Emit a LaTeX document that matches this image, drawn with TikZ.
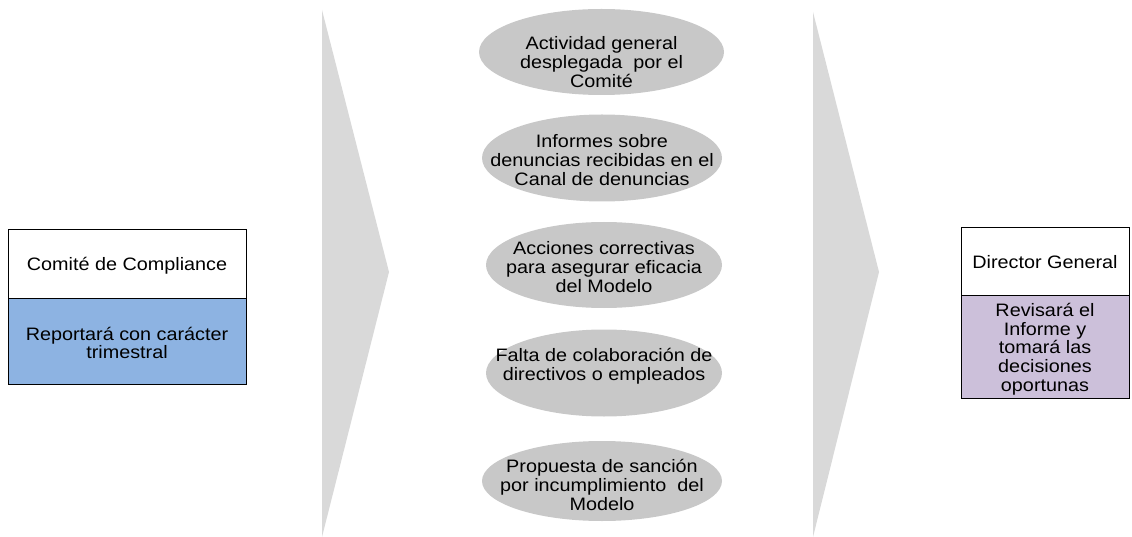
\documentclass[tikz,border=0pt]{standalone}
\usepackage{fontspec}
\setmainfont{Liberation Sans}[FakeStretch=1.1]
\usetikzlibrary{shapes.geometric}
\definecolor{chev}{HTML}{D9D9D9}
\definecolor{ellfill}{HTML}{C8C8C8}
\definecolor{bluefill}{HTML}{8DB3E2}
\definecolor{lavfill}{HTML}{CCC0DA}
\tikzset{
  txt/.style={font=\fontsize{18}{18.7}\selectfont, align=center, text=black, inner sep=0pt},
  cell/.style={txt, draw=black, line width=1pt},
  oval/.style={ellipse, fill=ellfill, draw=none, inner sep=0pt},
}
\begin{document}
\begin{tikzpicture}[x=1pt,y=-1pt]
\useasboundingbox (0,0) rectangle (1132,537);
% chevrons
\fill[chev] (322,10) -- (389,272) -- (322,537) -- cycle;
\fill[chev] (813,12) -- (879,272) -- (813,537) -- cycle;
% left box
\node[cell, minimum width=238pt, minimum height=68pt] (lt) at (127,264) {};
\node[txt] (ltt) at (127,266) {Comité de Compliance};
\node[cell, fill=bluefill, minimum width=238pt, minimum height=86pt] (lb) at (127,341) {};
\node[txt] (lbt) at (127,343) {Reportará con carácter\\trimestral};
% right box
\node[cell, minimum width=168pt, minimum height=67pt] (rt) at (1045,261.5) {};
\node[txt] (rtt) at (1045,262) {Director General};
\node[cell, fill=lavfill, minimum width=168pt, minimum height=103pt] (rb) at (1045,346.5) {};
\node[txt] (rbt) at (1045,349) {Revisará el\\Informe y\\tomará las\\decisiones\\oportunas};
% ellipses
\node[oval, minimum width=245pt, minimum height=86pt] (e1) at (601.5,52) {};
\node[oval, minimum width=240pt, minimum height=87pt] (e2) at (602,158) {};
\node[oval, minimum width=236pt, minimum height=86pt] (e3) at (604,265) {};
\node[oval, minimum width=236pt, minimum height=87pt] (e4) at (604,373) {};
\node[oval, minimum width=240pt, minimum height=80pt] (e5) at (602,481) {};
\node[txt] (t1) at (601.5,62) {Actividad general\\desplegada\ \ por el\\Comité};
\node[txt] (t2) at (602,160) {Informes sobre\\denuncias recibidas en el\\Canal de denuncias};
\node[txt] (t3) at (604,267) {Acciones correctivas\\para asegurar eficacia\\del Modelo};
\node[txt] (t4) at (604,366) {Falta de colaboración de\\directivos o empleados};
\node[txt] (t5) at (602,485) {Propuesta de sanción\\por incumplimiento\ \ del\\Modelo};
\end{tikzpicture}
\end{document}
